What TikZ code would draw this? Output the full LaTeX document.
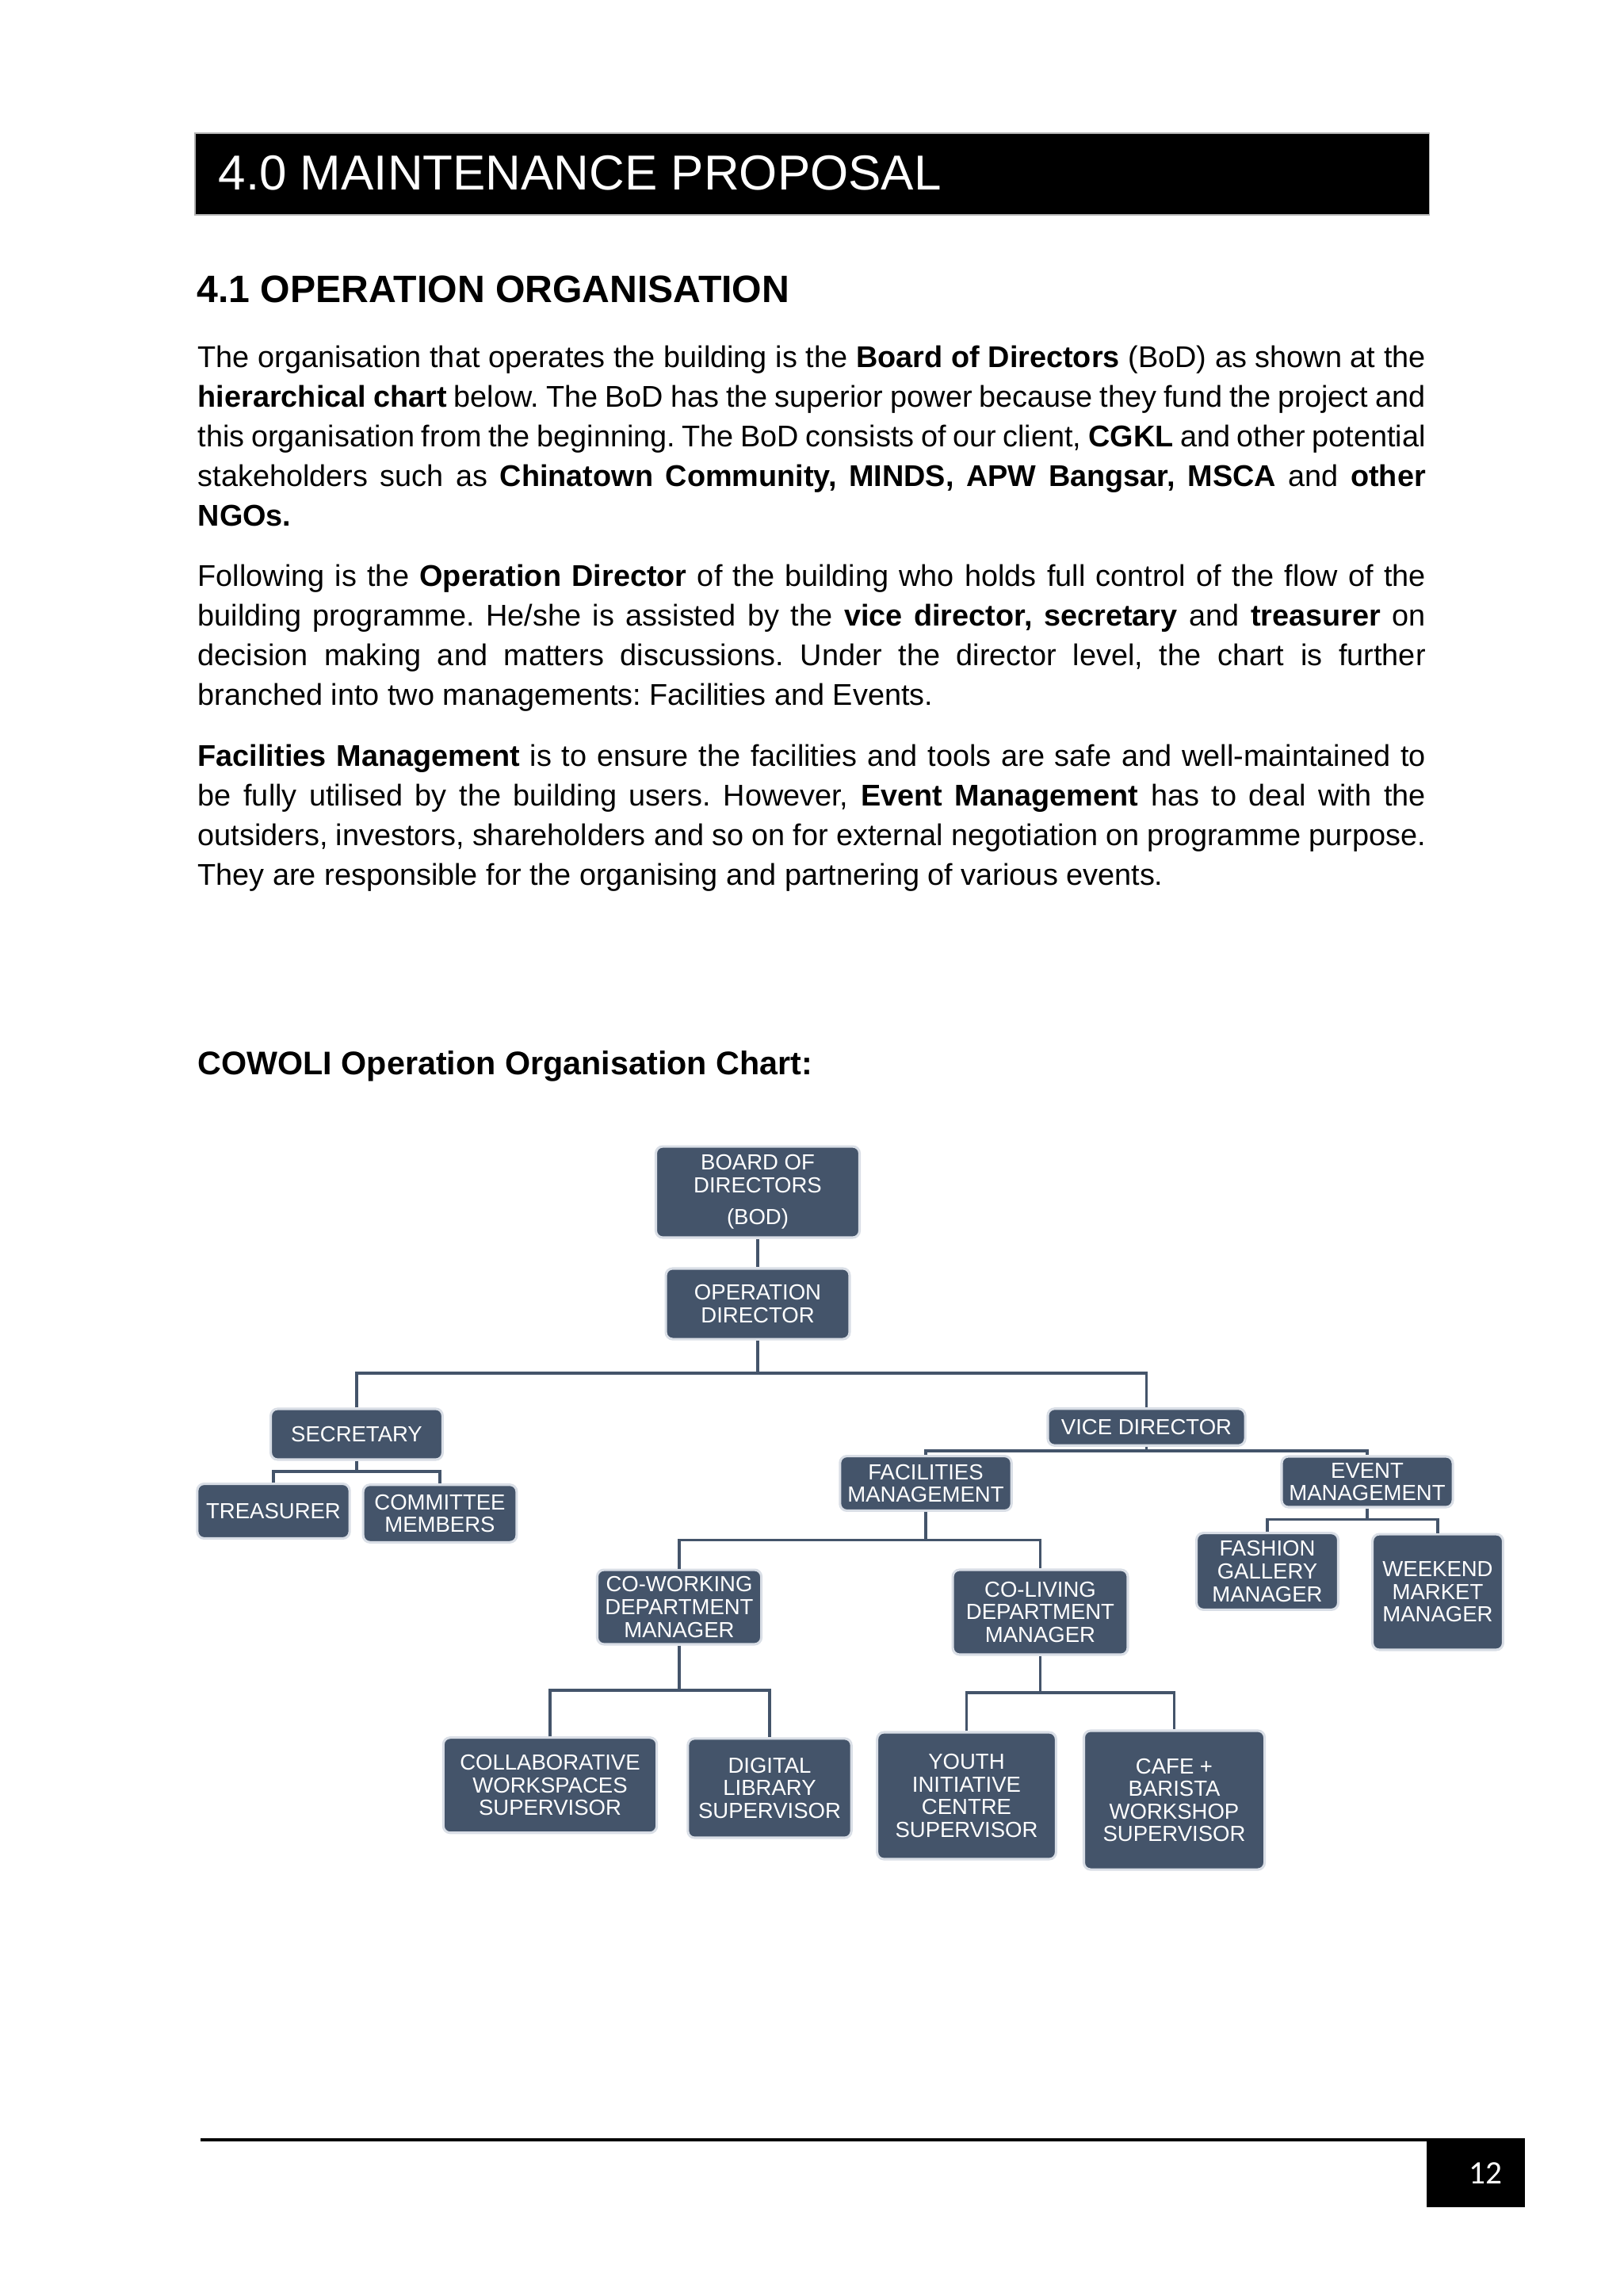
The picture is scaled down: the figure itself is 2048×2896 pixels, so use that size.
\documentclass[tikz,border=0pt]{standalone}
\usepackage{fontspec}
\setmainfont{Liberation Sans}
\newfontfamily\pagenumfont{Carlito}
\usetikzlibrary{calc}
\frenchspacing
\hyphenpenalty=10000
\tolerance=9999

\definecolor{chartslate}{HTML}{44546A}
\definecolor{chartedge}{HTML}{D9DEE6}

\tikzset{
  orgbox/.style={draw=chartedge, line width=0.9pt, fill=chartslate, rounded corners=2.5pt,
    text=white, font=\fontsize{8}{8.3}\selectfont, align=center, inner sep=0pt},
  orgline/.style={draw=chartslate, line width=0.9pt},
  bodytext/.style={anchor=base west, inner sep=0pt, text width=450.3pt, align=justify,
    font=\fontsize{11}{14.53}\selectfont},
}

\begin{document}
\begin{tikzpicture}[x=0.29068pt,y=-0.29068pt]
        \useasboundingbox (0,0) rectangle (2048,2896);
        \fill[white] (0,0) rectangle (2048,2896);

        % page head
        \filldraw[fill=black,draw=gray!60,line width=.3pt] (246,168) rectangle (1803,271);
        \node[anchor=base west,inner sep=0pt,text=white,font=\fontsize{18}{21}\selectfont] (title) at (275,240) {4.0 MAINTENANCE PROPOSAL};
        \node[anchor=base west,inner sep=0pt,font=\fontsize{14}{16}\selectfont\bfseries] (heading) at (248,382) {4.1 OPERATION ORGANISATION};

        \node[bodytext] (para1) at (249,463.3) {The organisation that operates the building is the \textbf{Board of Directors} (BoD) as shown at the\linebreak
        \textbf{hierarchical chart} below. The BoD has the superior power because they fund the project and\linebreak
        this organisation from the beginning. The BoD consists of our client, \textbf{CGKL} and other potential\linebreak
        stakeholders such as \textbf{Chinatown Community, MINDS, APW Bangsar, MSCA} and \textbf{other}\linebreak
        \textbf{NGOs.}};
        \node[bodytext] (para2) at (249,740) {Following is the \textbf{Operation Director} of the building who holds full control of the flow of the\linebreak
        building programme. He/she is assisted by the \textbf{vice director, secretary} and \textbf{treasurer} on\linebreak
        decision making and matters discussions. Under the director level, the chart is further\linebreak
        branched into two managements: Facilities and Events.};
        \node[bodytext] (para3) at (249,966.7) {\textbf{Facilities Management} is to ensure the facilities and tools are safe and well-maintained to\linebreak
        be fully utilised by the building users. However, \textbf{Event Management} has to deal with the\linebreak
        outsiders, investors, shareholders and so on for external negotiation on programme purpose.\linebreak
        They are responsible for the organising and partnering of various events.};

        \node[anchor=base west,inner sep=0pt,font=\fontsize{12}{14}\selectfont\bfseries] (charthead) at (249,1355) {COWOLI Operation Organisation Chart:};

        % chart boxes
        \node[orgbox,minimum width=74.7pt,minimum height=33.4pt] (bod) at (956,1503.5) {BOARD OF\\DIRECTORS\\[3.5pt](BOD)};
        \node[orgbox,minimum width=67.4pt,minimum height=25.9pt] (opdir) at (956,1644.5) {OPERATION\\DIRECTOR};
        \node[orgbox,minimum width=63pt,minimum height=18.6pt] (sec) at (450,1809) {SECRETARY};
        \node[orgbox,minimum width=72.4pt,minimum height=13.5pt] (vice) at (1446.5,1800) {VICE DIRECTOR};
        \node[orgbox,minimum width=55.9pt,minimum height=20pt] (treas) at (345,1906) {TREASURER};
        \node[orgbox,minimum width=56.3pt,minimum height=21.1pt] (comm) at (555,1909) {COMMITTEE\\MEMBERS};
        \node[orgbox,minimum width=62.9pt,minimum height=20pt] (facil) at (1168,1871) {FACILITIES\\MANAGEMENT};
        \node[orgbox,minimum width=62.8pt,minimum height=18.6pt] (event) at (1725,1869) {EVENT\\MANAGEMENT};
        \node[orgbox,minimum width=60.2pt,minimum height=27.3pt] (cowork) at (857,2027) {CO-WORKING\\DEPARTMENT\\MANAGER};
        \node[orgbox,minimum width=64.2pt,minimum height=31.1pt] (coliv) at (1312.5,2033.5) {CO-LIVING\\DEPARTMENT\\MANAGER};
        \node[orgbox,minimum width=52pt,minimum height=28.1pt] (fashion) at (1599,1982) {FASHION\\GALLERY\\MANAGER};
        \node[orgbox,minimum width=47.9pt,minimum height=42.4pt] (weekend) at (1814,2008) {WEEKEND\\MARKET\\MANAGER};
        \node[orgbox,minimum width=78.3pt,minimum height=34.9pt] (collab) at (694,2251.7) {COLLABORATIVE\\WORKSPACES\\SUPERVISOR};
        \node[orgbox,minimum width=60pt,minimum height=36.4pt] (digital) at (971,2255.4) {DIGITAL\\LIBRARY\\SUPERVISOR};
        \node[orgbox,minimum width=65.6pt,minimum height=46.5pt] (youth) at (1219.5,2265) {YOUTH\\INITIATIVE\\CENTRE\\SUPERVISOR};
        \node[orgbox,minimum width=66.3pt,minimum height=50.9pt] (cafe) at (1481.5,2270.5) {CAFE +\\BARISTA\\WORKSHOP\\SUPERVISOR};

        % junctions
        \coordinate (jtop) at (956,1732);
        \coordinate (jsec) at (450,1856);
        \coordinate (jvice) at (1446.5,1830);
        \coordinate (jfacil) at (1168,1942.5);
        \coordinate (jevent) at (1725,1916.5);
        \coordinate (jcowork) at (857,2132);
        \coordinate (jcoliv) at (1312.5,2135);

        \draw[orgline] (bod.south) -- (opdir.north);
        \draw[orgline] (opdir.south) -- (jtop);
        \draw[orgline] (sec.north) |- (jtop) -| (vice.north);
        \draw[orgline] (sec.south) -- (jsec);
        \draw[orgline] (treas.north) |- (jsec) -| (comm.north);
        \draw[orgline] (vice.south) -- (jvice);
        \draw[orgline] (facil.north) |- (jvice) -| (event.north);
        \draw[orgline] (facil.south) -- (jfacil);
        \draw[orgline] (cowork.north) |- (jfacil) -| (coliv.north);
        \draw[orgline] (event.south) -- (jevent);
        \draw[orgline] (fashion.north) |- (jevent) -| (weekend.north);
        \draw[orgline] (cowork.south) -- (jcowork);
        \draw[orgline] (collab.north) |- (jcowork) -| (digital.north);
        \draw[orgline] (coliv.south) -- (jcoliv);
        \draw[orgline] (youth.north) |- (jcoliv) -| (cafe.north);

        % page foot
        \fill[black] (1800,2697) rectangle (1924,2784);
        \draw[line width=1.16pt] (253,2698.5) -- (1858,2698.5);
        \node[anchor=base,inner sep=0pt,text=white,font=\pagenumfont\fontsize{12}{14}\selectfont] (pagenum) at (1874,2754) {12};
    \end{tikzpicture}
\end{document}
